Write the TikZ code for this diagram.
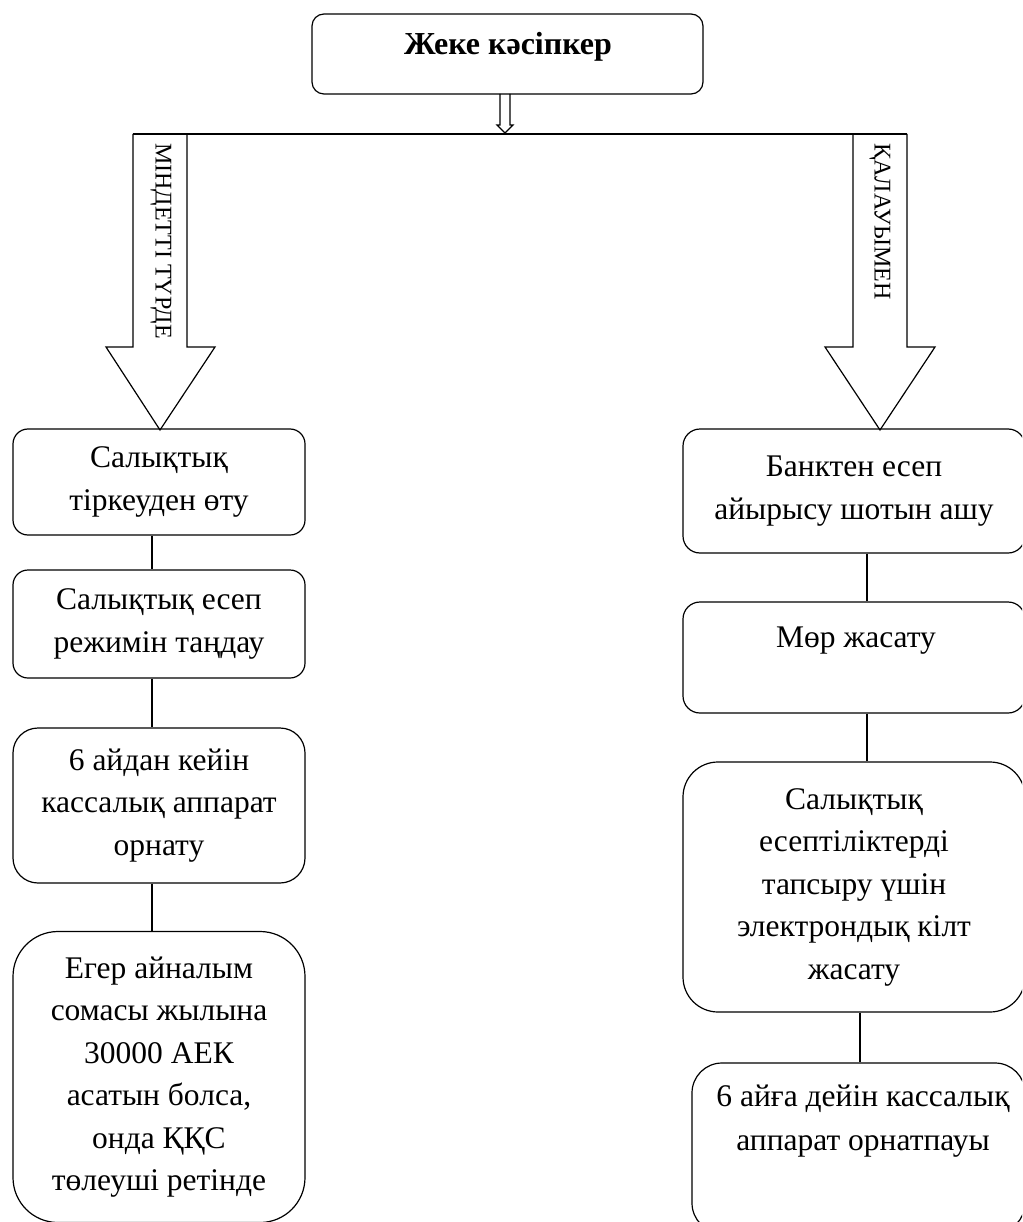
\documentclass[tikz,border=0pt]{standalone}
\usepackage{fontspec}
\setmainfont{Liberation Serif}
\begin{document}
\begin{tikzpicture}[x=1pt,y=-1pt,line width=1.2pt,
  box/.style={draw,rounded corners=#1,inner sep=0pt,align=center,
    font=\fontsize{31.5}{42.5}\selectfont},
  box/.default=15pt,
  btext/.style={font=\fontsize{31.5}{44}\selectfont,align=center,inner sep=0pt},
  vtext/.style={font=\fontsize{24}{28}\selectfont,rotate=-90,inner sep=0pt}]
\useasboundingbox (0,0) rectangle (1022,1222);
\clip (0,0) rectangle (1022,1222);
% top box
\node[box=12pt,minimum width=391pt,minimum height=80pt] (T) at (507.5,54) {};
\node[font=\fontsize{32}{38}\selectfont\bfseries,anchor=base] (Tt) at (508,55) {Жеке кәсіпкер};
% small double arrow
\draw (500,94) -- (500,125) -- (497,125) -- (505,133) -- (513,125) -- (510,125) -- (510,94);
% horizontal bar
\coordinate (HL) at (133,134);
\coordinate (HR) at (907,134);
\draw (HL) -- (HR);
% left big arrow
\draw (133,134) -- (133,347) -- (106,347) -- (160,430) -- (215,347) -- (187,347) -- (187,134);
\node[vtext] (AL) at (161,241) {МІНДЕТТІ ТҮРДЕ};
% right big arrow
\draw (853,134) -- (853,347) -- (825,347) -- (880,430) -- (935,347) -- (907,347) -- (907,134);
\node[vtext] (AR) at (880,221.5) {ҚАЛАУЫМЕН};
% left column
\node[box=15pt,minimum width=292pt,minimum height=106pt] (L1) at (159,482) {Салықтық\\тіркеуден өту};
\node[box=15pt,minimum width=292pt,minimum height=108pt] (L2) at (159,624) {Салықтық есеп\\режимін таңдау};
\node[box=25pt,minimum width=292pt,minimum height=155pt] (L3) at (159,805.5) {6 айдан кейін\\кассалық аппарат\\орнату};
\node[box=45pt,minimum width=292pt,minimum height=291pt] (L4) at (159,1077) {Егер айналым\\сомасы жылына\\30000 АЕК\\асатын болса,\\онда ҚҚС\\төлеуші ретінде};
\draw ([xshift=-7pt]L1.south) -- ([xshift=-7pt]L2.north);
\draw ([xshift=-7pt]L2.south) -- ([xshift=-7pt]L3.north);
\draw ([xshift=-7pt]L3.south) -- ([xshift=-7pt]L4.north);
% right column
\node[box=17pt,minimum width=342pt,minimum height=124pt] (R1) at (854,491) {Банктен есеп\\айырысу шотын ашу};
\node[box=17pt,minimum width=342pt,minimum height=111pt] (R2) at (854,657.5) {};
\node[btext,anchor=base] (R2t) at (856,647) {Мөр жасату};
\node[box=35pt,minimum width=342pt,minimum height=250pt] (R3) at (854,887) {Салықтық\\есептіліктерді\\тапсыру үшін\\электрондық кілт\\жасату};
\node[box=30pt,minimum width=333pt,minimum height=170pt] (R4) at (858.5,1148) {};
\node[btext,anchor=north] (R4t) at (863,1084) {6 айға дейін кассалық\\аппарат орнатпауы};
\draw ([xshift=13pt]R1.south) -- ([xshift=13pt]R2.north);
\draw ([xshift=13pt]R2.south) -- ([xshift=13pt]R3.north);
\draw ([xshift=6pt]R3.south) -- ([xshift=1.5pt]R4.north);
\end{tikzpicture}
\end{document}
